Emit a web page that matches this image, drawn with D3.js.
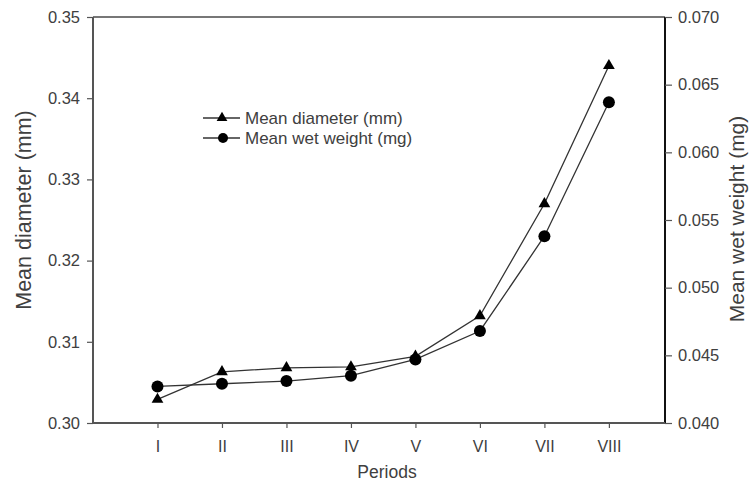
<!DOCTYPE html>
<html>
<head>
<meta charset="utf-8">
<script src="https://cdn.jsdelivr.net/npm/d3@7"></script>
<style>
  body { margin: 0; background: #fff; }
  text { font-family: Arial, "Liberation Sans", sans-serif; fill: #404040; }
</style>
</head>
<body>
<div id="chart"></div>
<script>
let periods = ['I', 'II', 'III', 'IV', 'V', 'VI', 'VII', 'VIII'];
let diameter = [0.3029, 0.3063, 0.3068, 0.3069, 0.3082, 0.3132, 0.3270, 0.3440];
let wetWeight = [0.0427, 0.0429, 0.0431, 0.0435, 0.0447, 0.0468, 0.0538, 0.0637];
let leftTicks = [0.30, 0.31, 0.32, 0.33, 0.34, 0.35];
let rightTicks = [0.040, 0.045, 0.050, 0.055, 0.060, 0.065, 0.070];

let width = 749;
let height = 481;
let plotLeft = 93, plotRight = 665, plotTop = 17, plotBottom = 423;

let svg = d3.select('#chart').append('svg')
    .attr('width', width)
    .attr('height', height);

// x positions: I..VIII with slightly more room on the left
let x = d3.scaleLinear().domain([0, 8.87]).range([plotLeft, plotRight]);
let yL = d3.scaleLinear().domain([0.30, 0.35]).range([plotBottom, plotTop]);
let yR = d3.scaleLinear().domain([0.040, 0.070]).range([plotBottom, plotTop]);

// top frame line
svg.append('line')
    .attr('x1', plotLeft).attr('x2', plotRight)
    .attr('y1', plotTop).attr('y2', plotTop)
    .attr('stroke', '#777').attr('stroke-width', 2);

let axisL = svg.append('g')
    .attr('transform', 'translate(' + plotLeft + ',0)')
    .call(d3.axisLeft(yL).tickValues(leftTicks).tickFormat(d3.format('.2f')).tickSize(6).tickPadding(7));

let axisR = svg.append('g')
    .attr('transform', 'translate(' + plotRight + ',0)')
    .call(d3.axisRight(yR).tickValues(rightTicks).tickFormat(d3.format('.3f')).tickSize(7).tickPadding(6));

let axisB = svg.append('g')
    .attr('transform', 'translate(0,' + plotBottom + ')')
    .call(d3.axisBottom(x).tickValues(d3.range(1, 9)).tickFormat(function (d) { return periods[d - 1]; }).tickSize(5).tickPadding(13));

[axisL, axisR, axisB].forEach(function (a) {
    a.select('.domain').attr('stroke', '#555').attr('stroke-width', 2);
    a.selectAll('.tick line').attr('stroke', '#555').attr('stroke-width', 1.2);
    a.selectAll('.tick text').style('font-size', '16.5px').attr('fill', '#444');
});
axisB.selectAll('.tick text').style('font-size', '16px');
axisR.select('.domain').attr('stroke', '#111');
axisL.select('.domain').attr('d', 'M0,' + plotBottom + 'V' + plotTop);
axisR.select('.domain').attr('d', 'M0,' + plotBottom + 'V' + plotTop);
axisB.select('.domain').attr('d', 'M' + plotLeft + ',0H' + plotRight);

// series lines
let lineD = d3.line()
    .x(function (d, i) { return x(i + 1); })
    .y(function (d) { return yL(d); });
let lineW = d3.line()
    .x(function (d, i) { return x(i + 1); })
    .y(function (d) { return yR(d); });

svg.append('path').attr('d', lineD(diameter))
    .attr('fill', 'none').attr('stroke', '#333').attr('stroke-width', 1.3);
svg.append('path').attr('d', lineW(wetWeight))
    .attr('fill', 'none').attr('stroke', '#333').attr('stroke-width', 1.3);

let tri = d3.symbol().type(d3.symbolTriangle).size(60);

svg.selectAll('.tri').data(diameter).enter().append('path')
    .attr('class', 'tri')
    .attr('d', tri)
    .attr('transform', function (d, i) { return 'translate(' + x(i + 1) + ',' + yL(d) + ')'; })
    .attr('fill', '#000');

svg.selectAll('.dot').data(wetWeight).enter().append('circle')
    .attr('class', 'dot')
    .attr('cx', function (d, i) { return x(i + 1); })
    .attr('cy', function (d) { return yR(d); })
    .attr('r', 6)
    .attr('fill', '#000');

// legend
let legend = svg.append('g').attr('transform', 'translate(203,118)');
legend.append('line').attr('x1', 0).attr('x2', 37).attr('y1', 0).attr('y2', 0)
    .attr('stroke', '#333').attr('stroke-width', 1.3);
legend.append('path').attr('d', d3.symbol().type(d3.symbolTriangle).size(50))
    .attr('transform', 'translate(19,0)').attr('fill', '#000');
legend.append('text').attr('x', 42).attr('y', 6).style('font-size', '17px').text('Mean diameter (mm)');
legend.append('line').attr('x1', 0).attr('x2', 37).attr('y1', 20).attr('y2', 20)
    .attr('stroke', '#333').attr('stroke-width', 1.3);
legend.append('circle').attr('cx', 20).attr('cy', 20).attr('r', 5).attr('fill', '#000');
legend.append('text').attr('x', 42).attr('y', 26).style('font-size', '17px').text('Mean wet weight (mg)');

// axis titles
svg.append('text')
    .attr('transform', 'translate(31,210) rotate(-90)')
    .attr('text-anchor', 'middle')
    .style('font-size', '21.5px')
    .text('Mean diameter (mm)');

svg.append('text')
    .attr('transform', 'translate(744,219) rotate(-90)')
    .attr('text-anchor', 'middle')
    .style('font-size', '21px')
    .text('Mean wet weight (mg)');

svg.append('text')
    .attr('x', 387).attr('y', 478)
    .attr('text-anchor', 'middle')
    .style('font-size', '17.5px')
    .text('Periods');
</script>
</body>
</html>
